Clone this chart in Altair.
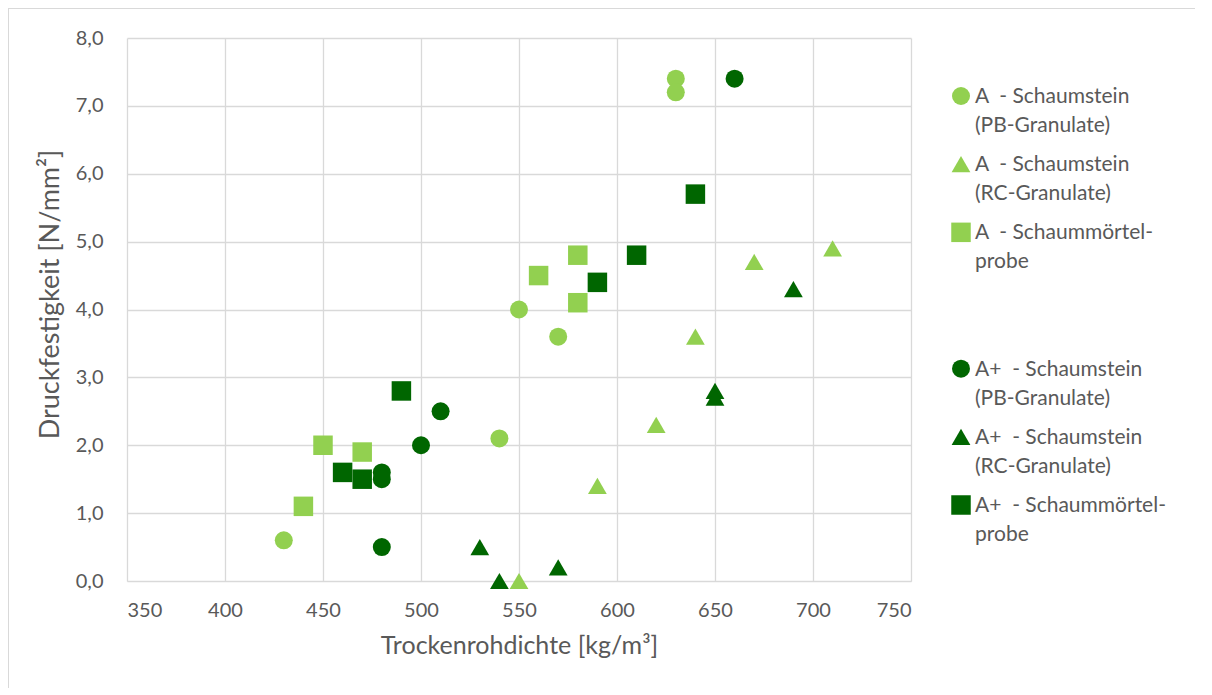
import altair as alt
import pandas as pd

# ---- data ----
NB = "\u00a0"
series_names = [
    "A " + NB + "- Schaumstein|(PB-Granulate)",
    "A " + NB + "- Schaumstein|(RC-Granulate)",
    "A " + NB + "- Schaummörtel-|probe",
    " ",
    "A+ " + NB + "- Schaumstein|(PB-Granulate)",
    "A+ " + NB + "- Schaumstein|(RC-Granulate)",
    "A+ " + NB + "- Schaummörtel-|probe",
]
series_colors = ["#92D050", "#92D050", "#92D050", "transparent", "#006600", "#006600", "#006600"]
series_shapes = ["circle", "triangle-up", "square", "circle", "circle", "triangle-up", "square"]

a_pb_x = [430, 540, 550, 570, 630, 630]
a_pb_y = [0.6, 2.1, 4.0, 3.6, 7.4, 7.2]

a_rc_x = [550, 590, 620, 640, 670, 710]
a_rc_y = [0.0, 1.4, 2.3, 3.6, 4.7, 4.9]

a_sm_x = [440, 450, 470, 560, 580, 580]
a_sm_y = [1.1, 2.0, 1.9, 4.5, 4.8, 4.1]

ap_pb_x = [480, 480, 480, 500, 510, 660]
ap_pb_y = [0.5, 1.6, 1.5, 2.0, 2.5, 7.4]

ap_rc_x = [530, 540, 570, 650, 650, 690]
ap_rc_y = [0.5, 0.0, 0.2, 2.8, 2.7, 4.3]

ap_sm_x = [460, 470, 490, 590, 610, 640]
ap_sm_y = [1.6, 1.5, 2.8, 4.4, 4.8, 5.7]

x_ticks = [350, 400, 450, 500, 550, 600, 650, 700, 750]
y_ticks = [0, 1, 2, 3, 4, 5, 6, 7, 8]

groups = [
    (series_names[0], a_pb_x, a_pb_y),
    (series_names[1], a_rc_x, a_rc_y),
    (series_names[2], a_sm_x, a_sm_y),
    (series_names[4], ap_pb_x, ap_pb_y),
    (series_names[5], ap_rc_x, ap_rc_y),
    (series_names[6], ap_sm_x, ap_sm_y),
]
rows = []
for name, xs, ys in groups:
    for xv, yv in zip(xs, ys):
        rows.append({"series": name, "x": xv, "y": yv,
                     "shape": series_shapes[series_names.index(name)]})
df = pd.DataFrame(rows)

legend_df = pd.DataFrame({
    "series": [n for n in series_names if n.strip()],
    "shape": [s for n, s in zip(series_names, series_shapes) if n.strip()],
})

FONT = "Lato"
GRAY = "#595959"
LINE = "#d9d9d9"

color_scale = alt.Scale(domain=series_names, range=series_colors)
shape_scale = alt.Scale(domain=series_names, range=series_shapes)
size_scale = alt.Scale(domain=["circle", "triangle-up", "square"], range=[324, 380, 324])

points = alt.Chart(df).mark_point(filled=True, opacity=1, strokeWidth=0).encode(
    x=alt.X("x:Q", title="Trockenrohdichte [kg/m³]",
            scale=alt.Scale(domain=[350, 750], nice=False, zero=False),
            axis=alt.Axis(values=x_ticks, format="d", labelPadding=19,
                          titlePadding=13, domain=True, domainColor=LINE,
                          ticks=False, titleFontSize=25)),
    y=alt.Y("y:Q", title="Druckfestigkeit [N/mm²]",
            scale=alt.Scale(domain=[0, 8], nice=False),
            axis=alt.Axis(values=y_ticks, labelExpr="replace(format(datum.value, '.1f'), '.', ',')",
                          labelPadding=24, titlePadding=11, domain=False, ticks=False,
                          titleFontSize=27, titleY=256)),
    color=alt.Color("series:N", scale=color_scale, legend=None),
    shape=alt.Shape("series:N", scale=shape_scale, legend=None),
    size=alt.Size("shape:N", scale=size_scale, legend=None),
)

leg_y = alt.Y("series:N", scale=alt.Scale(domain=series_names, range=[58, 467], padding=0), axis=None)

legend_symbols = alt.Chart(legend_df).mark_point(filled=True, opacity=1, strokeWidth=0).encode(
    x=alt.value(834),
    y=leg_y,
    color=alt.Color("series:N", scale=color_scale, legend=None),
    shape=alt.Shape("series:N", scale=shape_scale, legend=None),
    size=alt.Size("shape:N", scale=size_scale, legend=None),
)

legend_text = alt.Chart(legend_df).transform_calculate(
    label="split(datum.series, '|')"
).mark_text(align="left", baseline="middle", dy=1, lineHeight=29,
            font=FONT, fontSize=21, color=GRAY).encode(
    x=alt.value(848),
    y=leg_y,
    text=alt.Text("label:N"),
)

one = pd.DataFrame({"k": [0]})
border_left = alt.Chart(one).mark_rule(color=LINE, strokeWidth=2).encode(
    x=alt.value(-119), y=alt.value(-31), y2=alt.value(650))
border_top = alt.Chart(one).mark_rule(color=LINE, strokeWidth=2).encode(
    y=alt.value(-30), x=alt.value(-120), x2=alt.value(1068))

chart = alt.layer(
    border_left, border_top, points, legend_symbols, legend_text
).resolve_scale(y="independent").properties(
    width=784, height=543,
    autosize=alt.AutoSizeParams(type="none"),
    padding={"left": 119, "top": 30, "right": 290, "bottom": 110},
).configure_view(stroke=None).configure_axis(
    gridColor=LINE, gridWidth=1.3, labelFont=FONT, titleFont=FONT,
    labelFontSize=20, labelColor=GRAY, titleColor=GRAY,
    titleFontWeight="normal",
)

chart.save("out.html", embed_options={"renderer": "svg", "actions": False})
